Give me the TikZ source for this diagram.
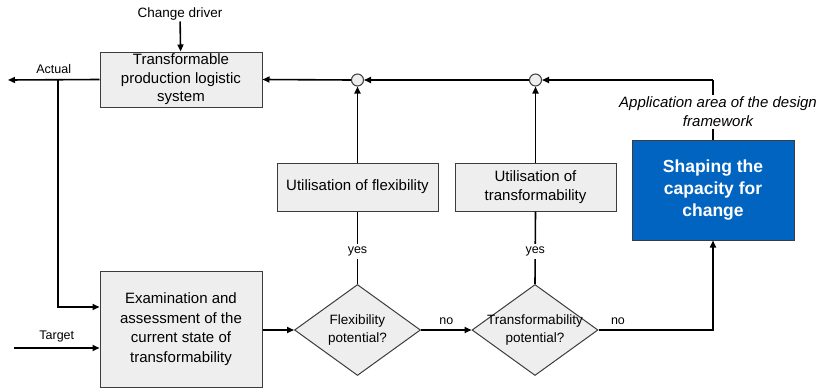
\documentclass[tikz,border=0pt]{standalone}
\usepackage{fontspec}
\setmainfont{Liberation Sans}
\usetikzlibrary{shapes.geometric,arrows.meta}
\definecolor{boxgray}{RGB}{238,238,238}
\definecolor{linegray}{RGB}{60,60,60}
\definecolor{shapeblue}{RGB}{0,100,192}
\begin{document}
\begin{tikzpicture}[
    x=1pt, y=-1pt,
    >={Triangle[length=7pt,width=6pt]},
    flow/.style={
        draw=black, line width=1.6pt,
    },
    stepbox/.style={
        draw=linegray, fill=boxgray, line width=1pt,
        align=center, font=\fontsize{15}{18.5}\selectfont,
        inner sep=0pt,
    },
    decision/.style={
        diamond, draw=linegray, fill=boxgray, line width=1pt,
        minimum width=126pt, minimum height=91pt, inner sep=0pt,
        aspect=1.38,
    },
    question/.style={
        align=center, font=\fontsize{13.5}{18}\selectfont, inner sep=0pt,
    },
    junction/.style={
        circle, draw=linegray, fill=boxgray, line width=1pt,
        minimum size=12pt, inner sep=0pt,
    },
    tag/.style={
        font=\fontsize{12.5}{15}\selectfont, inner sep=1pt,
    },
    ]
    \useasboundingbox (0,0) rectangle (820,388);
    % boxes
    \node [stepbox, minimum width=162pt, minimum height=55pt, at={(181,79.5)}] (sys)
        {Transformable\\production logistic\\system};
    \node [stepbox, font=\fontsize{15}{19.5}\selectfont,
        minimum width=162pt, minimum height=116pt, at={(181,329)}] (exam)
        {Examination and\\assessment of the\\current state of\\transformability};
    \node [stepbox, minimum width=161pt, minimum height=48pt, at={(357.5,187)}] (flex)
        {Utilisation of flexibility};
    \node [stepbox, minimum width=161pt, minimum height=48pt, at={(535.5,187)}] (trans)
        {Utilisation of\\transformability};
    \node [stepbox, draw=linegray, fill=shapeblue, text=white,
        font=\fontsize{17.5}{22}\selectfont\bfseries,
        minimum width=162pt, minimum height=100pt, at={(713,190)}] (shape)
        {Shaping the\\capacity for\\change};
    % decisions
    \node [decision, at={(357.5,330)}] (dflex) {};
    \node [question, at=(dflex)] (qflex) {Flexibility\\potential?};
    \node [decision, at={(535,330)}] (dtrans) {};
    \node [question, at=(dtrans)] (qtrans) {Transformability\\potential?};
    % junctions
    \node [junction, at={(357.5,80)}] (j1) {};
    \node [junction, at={(535.5,80)}] (j2) {};
    % free ends
    \node [tag, font=\fontsize{13.5}{16}\selectfont, at={(180,14)}] (driver) {Change driver};
    \coordinate (actual) at (8,80);
    \coordinate (target) at (14,348);
    \coordinate (corner) at (713,80);
    \coordinate (split) at (58,80);
    % connectors
    \draw [flow, ->] (driver) -- (sys);
    \draw [flow, ->] (sys.west) -- node [tag, above=4pt, pos=0.5] {Actual} (actual);
    \draw [flow, ->] (split) |- (exam.west |- 0,307);
    \draw [flow, ->] (target) -- node [tag, above=4pt, pos=0.5] {Target} (exam.west |- target);
    \draw [flow, ->] (exam.east |- dflex) -- (dflex.west);
    \draw [flow, ->] (dflex.east) -- node [tag, above=4pt] {no} (dtrans.west);
    \draw [flow, ->] (dtrans.east) -- node [tag, above=4pt, pos=0.17] {no} (corner |- dtrans) -- (shape.south);
    \draw [flow] (dflex.north) -- node [tag, fill=white, inner sep=3pt, pos=0.45] {yes} (flex.south);
    \draw [flow] (dtrans.north) -- node [tag, fill=white, inner sep=3pt, pos=0.45] {yes} (trans.south);
    \draw [flow, ->] (flex.north) -- (j1.south);
    \draw [flow, ->] (trans.north) -- (j2.south);
    \draw [flow] (shape.north) -- (corner);
    \draw [flow, ->] (corner) -- (j2.east);
    \draw [flow, ->] (j2.west) -- (j1.east);
    \draw [flow, ->] (j1.west) -- (sys.east);
    \node [fill=white, align=center, inner sep=2pt,
        font=\fontsize{15}{19}\selectfont\itshape, at={(718,112)}] (area)
        {Application area of the design\\framework};
\end{tikzpicture}
\end{document}
